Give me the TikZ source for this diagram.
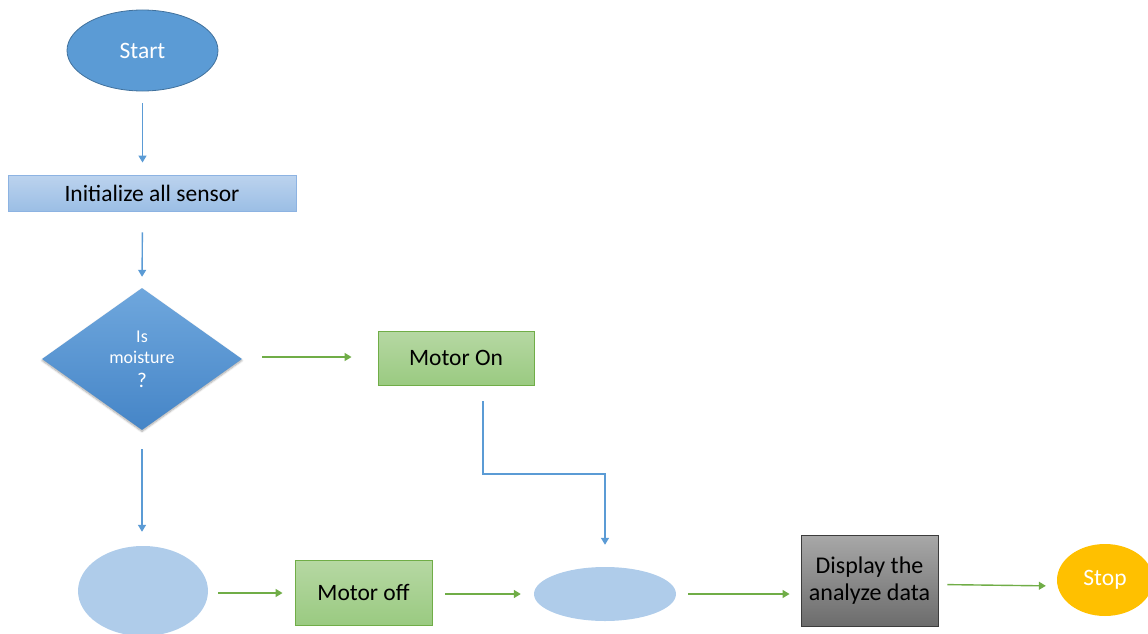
\documentclass[tikz,border=0pt]{standalone}
\usepackage{fontspec}
\setmainfont{Carlito}
\usetikzlibrary{shapes.geometric,arrows.meta,shadows.blur}

\definecolor{flowblue}{HTML}{5B9BD5}
\definecolor{startedge}{HTML}{41719C}
\definecolor{paleblue}{HTML}{AFCCEA}
\definecolor{inittop}{HTML}{BCD3EE}
\definecolor{initbot}{HTML}{9BBEE5}
\definecolor{initedge}{HTML}{8DB3E2}
\definecolor{diatop}{HTML}{6FA7DD}
\definecolor{diabot}{HTML}{4585C7}
\definecolor{flowgreen}{HTML}{70AD47}
\definecolor{greentop}{HTML}{B6D8A3}
\definecolor{greenbot}{HTML}{9ACA81}
\definecolor{graytop}{HTML}{A8A8A8}
\definecolor{graybot}{HTML}{6C6C6C}
\definecolor{grayedge}{HTML}{3C3C3C}
\definecolor{stopfill}{HTML}{FFC000}

\tikzset{
  lbl/.style={font=\fontsize{23.5}{27}\selectfont},
  terminal/.style={ellipse, inner sep=0pt, lbl, text=white},
  blank/.style={ellipse, inner sep=0pt, fill=paleblue},
  greenbox/.style={rectangle, inner sep=0pt, lbl, draw=flowgreen, line width=0.9pt,
    top color=greentop, bottom color=greenbot},
  bluearr/.style={draw=flowblue, line width=1.4pt, -{Triangle[length=7pt,width=8pt]}},
  greenarr/.style={draw=flowgreen, line width=1.4pt, -{Triangle[length=7pt,width=8pt]}}
}

\begin{document}
\begin{tikzpicture}[x=1pt,y=-1pt]
\useasboundingbox (0,0) rectangle (1148,634);

% shapes
\node[terminal, draw=startedge, line width=0.8pt, fill=flowblue,
      minimum width=151pt, minimum height=81pt] (start) at (142.5,50.5) {Start};

\node[rectangle, inner sep=0pt, lbl, draw=initedge, line width=0.9pt,
      top color=inittop, bottom color=initbot,
      minimum width=288pt, minimum height=36pt] (init) at (152,193) {Initialize all sensor};

\node[diamond, inner sep=0pt, aspect=1.4, text=white, align=center,
      font=\fontsize{18}{21}\selectfont,
      top color=diatop, bottom color=diabot,
      blur shadow={shadow xshift=0pt, shadow yshift=-1.5pt, shadow blur steps=6, shadow opacity=35},
      minimum width=200pt, minimum height=142pt] (dec) at (142,359)
      {Is\\moisture\\[3pt]{\fontsize{21}{21}\selectfont ?}};

\node[greenbox, minimum width=156pt, minimum height=54pt] (on) at (456,358) {Motor On};

\node[blank, minimum width=130pt, minimum height=90pt] (left) at (143,591) {};

\node[greenbox, minimum width=137pt, minimum height=65pt] (off) at (363.5,592.5) {Motor off};

\node[blank, minimum width=142pt, minimum height=54pt] (mid) at (605,594) {};

\node[rectangle, inner sep=0pt, lbl, align=center, draw=grayedge, line width=0.9pt,
      top color=graytop, bottom color=graybot,
      font=\fontsize{24}{27}\selectfont,
      minimum width=137pt, minimum height=91pt] (disp) at (869.5,580.5)
      {Display the\\analyze data};

\node[terminal, fill=stopfill, minimum width=96pt, minimum height=72pt] (stop) at (1105,580) {Stop};

% connectors
\coordinate (bend) at (483,474);

\draw[bluearr, shorten <=12pt, shorten >=12pt] (start.south) -- (start.south |- init.north);
\draw[bluearr, shorten <=21pt, shorten >=11pt] (init.south -| start) -- (dec.north);
\draw[greenarr, shorten <=20pt, shorten >=26pt] ([yshift=2pt]dec.east) -- ([yshift=2pt]dec.east -| on.west);
\draw[bluearr, shorten <=19pt, shorten >=14pt] (dec.south) -- (dec.south |- left.north);
\draw[bluearr, shorten <=16pt, shorten >=22pt] ([xshift=27pt]on.south) |- (bend) -| (mid.north);
\draw[greenarr, shorten <=10pt, shorten >=12pt] ([yshift=-2pt]left.east) -- ([yshift=-2pt]left.east -| off.west);
\draw[greenarr, shorten <=13pt, shorten >=13pt] (off.east |- mid) -- (mid.west);
\draw[greenarr, shorten <=12pt, shorten >=11pt] (mid.east) -- (mid.east -| disp.west);
\draw[greenarr, shorten <=9pt, shorten >=11pt] ([yshift=-4pt]disp.east) -- ([yshift=-6pt]stop.west);
\end{tikzpicture}
\end{document}
